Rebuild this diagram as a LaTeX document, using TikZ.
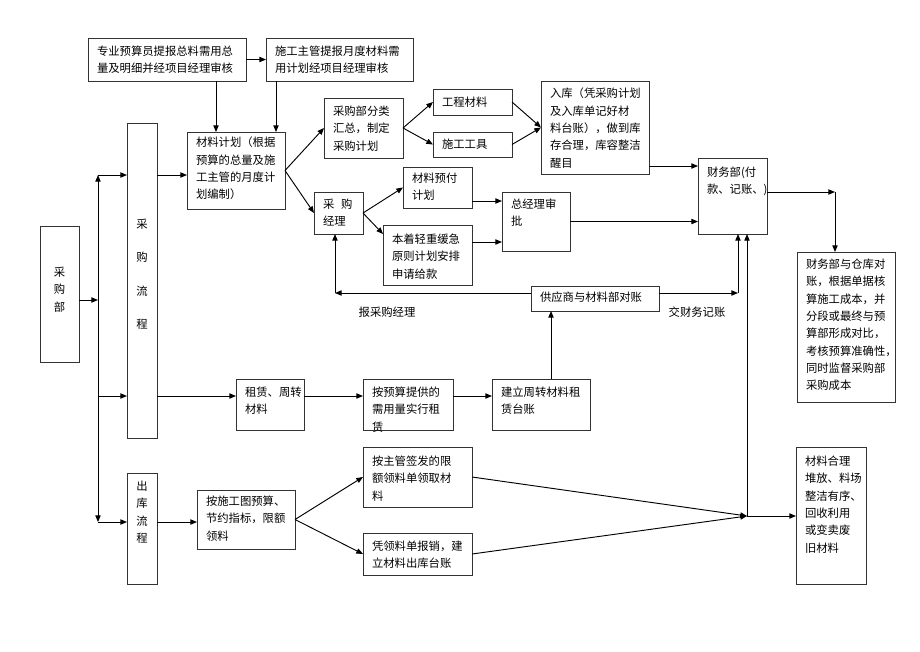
\documentclass[tikz,border=0pt]{standalone}
\usepackage{fontspec}
\newfontfamily\cjk{Noto Sans CJK SC}
\usetikzlibrary{arrows.meta}

\newdimen\pxu \pxu=0.75pt
% box: name, x, y, width, height, top pad, text
\newcommand\blk[7]{%
  \node[bx] (#1) at (#2,#3) {\parbox[c][#5\pxu][t]{#4\pxu}{\vspace*{#6\pxu}\leftskip=9\pxu\relax #7\par}};}

\begin{document}
\begin{tikzpicture}[
  x=0.75pt, y=-0.75pt,
  >={Triangle[length=5pt,width=4pt]},
  bx/.style={
    draw=black!80,
    line width=0.6pt,
    anchor=north west,
    inner sep=0pt,
    outer sep=0pt,
    font=\cjk\fontsize{8.5}{13}\selectfont
  },
  conn/.style={
    draw,
    line width=0.7pt
  },
  note/.style={
    font=\cjk\fontsize{8.5}{13}\selectfont
  },
]
\useasboundingbox (0,0) rectangle (920,651);

% top row
\blk{zyys}{88}{38}{158}{43}{8}{专业预算员提报总料需用总\\量及明细并经项目经理审核}
\blk{sgzg}{266}{38}{147}{43}{8}{施工主管提报月度材料需\\用计划经项目经理审核}

% left column
\blk{cgb}{40}{226}{39}{136}{41}{\centering 采\\购\\部}
\blk{cglc}{127}{123}{30}{315}{96}{\centering 采\\[12pt]购\\[12pt]流\\[12pt]程}
\blk{cklc}{127}{473}{30}{111}{8}{\centering 出\\库\\流\\程}

% plan branch
\blk{cljh}{187}{132}{98}{77}{5}{材料计划（根据\\预算的总量及施\\工主管的月度计\\划编制）}
\blk{fl}{324}{98}{79}{60}{8}{采购部分类\\汇总，制定\\采购计划}
\blk{gc}{433}{89}{79}{26}{8}{工程材料}
\blk{sg}{433}{132}{79}{25}{7}{施工工具}
\blk{rk}{541}{81}{108}{93}{7}{入库（凭采购计划\\及入库单记好材\\料台账），做到库\\存合理，库容整洁\\醒目}
\blk{jl}{314}{192}{49}{42}{7}{采\hspace{0.6em}购\\经理}
\blk{yf}{403}{167}{69}{41}{6}{材料预付\\计划}
\blk{bz}{383}{225}{89}{60}{9}{本着轻重缓急\\原则计划安排\\申请给款}
\blk{zjl}{502}{192}{68}{59}{7}{总经理审\\批}
\blk{cw}{698}{158}{69}{76}{9}{财务部(付\\款、记账、)}
\blk{dz}{797}{252}{98}{150}{7}{财务部与仓库对\\账，根据单据核\\算施工成本，并\\分段或最终与预\\算部形成对比，\\考核预算准确性，\\同时监督采购部\\采购成本}
\blk{gys}{531}{286}{128}{25}{6}{供应商与材料部对账}

% lease branch
\blk{zl}{236}{379}{68}{51}{8}{租赁、周转\\材料}
\blk{ays}{363}{379}{90}{51}{8}{按预算提供的\\需用量实行租\\赁}
\blk{jlzz}{492}{379}{98}{51}{8}{建立周转材料租\\赁台账}

% outbound branch
\blk{asg}{197}{490}{98}{59}{6}{按施工图预算、\\节约指标，限额\\领料}
\blk{azg}{363}{447}{109}{60}{9}{按主管签发的限\\额领料单领取材\\料}
\blk{plb}{363}{533}{109}{42}{8}{凭领料单报销，建\\立材料出库台账}
\blk{hl}{796}{447}{70}{137}{9}{材料合理\\堆放、料场\\整洁有序、\\回收利用\\或变卖废\\旧材料}

\node[note] (lb1) at (387,312) {报采购经理};
\node[note] (lb2) at (697,312) {交财务记账};

% bends
\coordinate (j0) at (98,300);
\coordinate (jtop) at (98,175);
\coordinate (jmid) at (98,396);
\coordinate (jbot) at (98,522);
\coordinate (d1) at (216,81);
\coordinate (d2) at (276,81);
\coordinate (b1) at (383,234);
\coordinate (p1) at (472,201);
\coordinate (p2) at (472,242);
\coordinate (r1) at (649,166);
\coordinate (c1) at (835,192);
\coordinate (g1) at (335,293);
\coordinate (g2) at (738,293);
\coordinate (z1) at (551,379);
\coordinate (k) at (747,516);

% left trunk
\draw[conn,->] (cgb.east |- j0) -- (j0);
\draw[conn,->] (j0) -- (jtop);
\draw[conn,->] (jtop) -- (jtop -| cglc.west);
\draw[conn,->] (j0) -- (jbot);
\draw[conn,->] (jbot) -- (jbot -| cklc.west);
\draw[conn,->] (jmid) -- (jmid -| cglc.west);

% plan
\draw[conn,->] (zyys) -- (sgzg);
\draw[conn,->] (d1) -- (d1 |- cljh.north);
\draw[conn,->] (d2) -- (d2 |- cljh.north);
\draw[conn,->] (jtop -| cglc.east) -- (jtop -| cljh.west);
\draw[conn,->] (cljh.east) -- (fl.west);
\draw[conn,->] (cljh.east) -- (jl.west);
\draw[conn,->] (fl.east) -- (gc.west);
\draw[conn,->] (fl.east) -- (sg.west);
\draw[conn,->] (gc.east) -- (rk.west);
\draw[conn,->] (sg.east) -- (rk.west);
\draw[conn,->] (r1) -- (r1 -| cw.west);
\draw[conn,->] (jl.east) -- (yf.west);
\draw[conn,->] (jl.east) -- (b1);
\draw[conn,->] (p1) -- (p1 -| zjl.west);
\draw[conn,->] (p2) -- (p2 -| zjl.west);
\draw[conn,->] (zjl.east) -- (zjl.east -| cw.west);
\draw[conn,->] (cw.east |- c1) -- (c1);
\draw[conn,->] (c1) -- (c1 |- dz.north);

% reconciliation
\draw[conn,->] (g1 -| gys.west) -- (g1);
\draw[conn,->] (g1) -- (g1 |- jl.south);
\draw[conn,->] (g2 -| gys.east) -- (g2);
\draw[conn,->] (g2) -- (g2 |- cw.south);

% lease
\draw[conn,->] (jmid -| cglc.east) -- (jmid -| zl.west);
\draw[conn,->] (jmid -| zl.east) -- (jmid -| ays.west);
\draw[conn,->] (jmid -| ays.east) -- (jmid -| jlzz.west);
\draw[conn,->] (z1) -- (z1 |- gys.south);

% outbound
\draw[conn,->] (jbot -| cklc.east) -- (jbot -| asg.west);
\draw[conn,->] (asg.east) -- (azg.west);
\draw[conn,->] (asg.east) -- (plb.west);
\draw[conn,->] (azg.east) -- (k);
\draw[conn,->] (plb.east) -- (k);
\draw[conn,->] (k) -- (k -| hl.west);
\draw[conn,->] (k) -- (k |- cw.south);
\end{tikzpicture}
\end{document}
